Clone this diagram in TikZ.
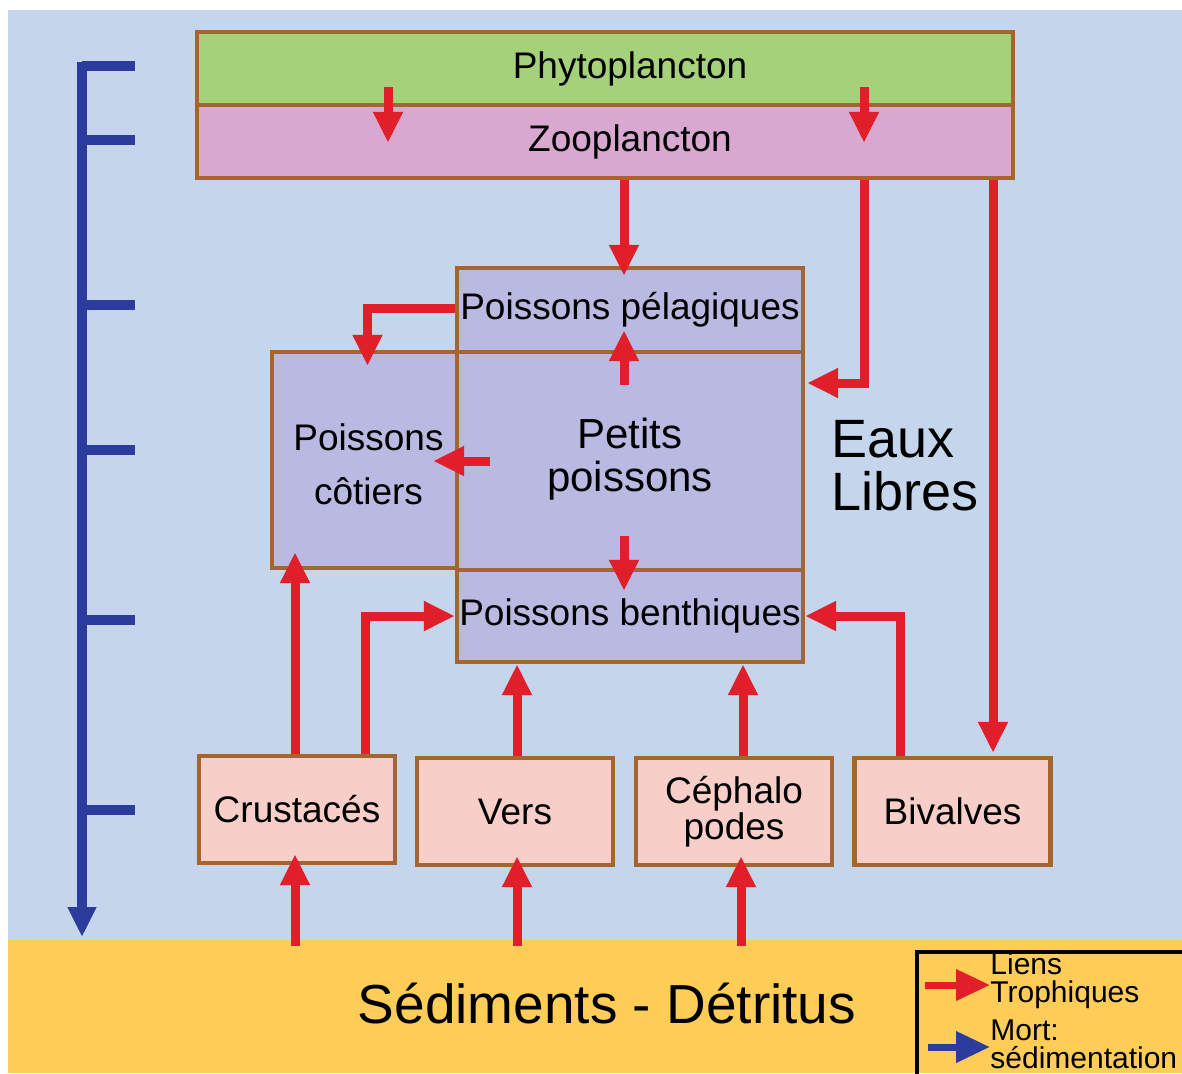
\documentclass[tikz,border=0pt]{standalone}
\usepackage{fontspec}
\setmainfont{Liberation Sans}
\usetikzlibrary{arrows.meta, calc}

\definecolor{fondbleu}{HTML}{C4D5EC}
\definecolor{jaune}{HTML}{FDCD58}
\definecolor{vert}{HTML}{A5D17B}
\definecolor{rosezoo}{HTML}{D8A8D0}
\definecolor{lavande}{HTML}{B9B9E1}
\definecolor{rosepale}{HTML}{F8CFC8}
\definecolor{brun}{HTML}{A5652F}
\definecolor{rouge}{HTML}{E01F2B}
\definecolor{bleu}{HTML}{2B3C9C}

\begin{document}
\begin{tikzpicture}[x=0.5pt, y=-0.5pt,
  every node/.style = {align=center, font=\fontsize{18.5}{22}\selectfont},
  bloc/.style = {draw=brun, line width=2.2pt, inner sep=0pt},
  fonds/.style = {bloc, fill=rosepale, minimum width=98pt, minimum height=53.5pt},
  lien/.style = {draw=rouge, line width=4.5pt, -{Triangle[length=15.5pt, width=14pt]}},
  mort/.style = {draw=bleu, line width=5pt}]

\useasboundingbox (0,0) rectangle (1182,1073);
\clip (0,0) rectangle (1182,1073);
\fill[white] (0,0) rectangle (1182,1073);
\fill[fondbleu] (8,10) rectangle (1182,1073);
\node[fill=jaune, inner sep=0pt, minimum width=587pt, minimum height=66.5pt] (sed) at (595,1006.5) {};
\node[font=\fontsize{27.5}{30}\selectfont] (sedtexte) at (607,1003) {Sédiments - Détritus};

% axe de sedimentation
\coordinate (axehaut) at (82,66);
\coordinate (axebas) at (82,937);
\draw[mort, -{Triangle[length=15pt, width=13.5pt]}] ($(axehaut)+(0,-4.5)$) -- (axebas);
\foreach \y in {66,140,305,450,620,810}
  \draw[mort] (82,\y) -- (135,\y);

% plancton
\node[bloc, fill=vert, minimum width=408pt, minimum height=36.5pt,
      label={[xshift=12.5pt]center:Phytoplancton}] (phyto) at (605,68.5) {};
\node[bloc, fill=rosezoo, minimum width=408pt, minimum height=36.5pt,
      label={[xshift=12.5pt]center:Zooplancton}] (zoo) at (605,141.5) {};

% poissons
\node[bloc, fill=lavande, minimum width=92.5pt, minimum height=108pt,
      label={[xshift=2pt, yshift=-2pt, font=\fontsize{18.5}{27}\selectfont]center:Poissons\\côtiers}] (cotiers) at (364.5,460) {};
\node[bloc, fill=lavande, minimum width=173pt, minimum height=42pt] (pelag) at (630,310) {Poissons pélagiques};
\node[bloc, fill=lavande, minimum width=173pt, minimum height=109pt,
      label={[yshift=1pt, font=\fontsize{21}{21.5}\selectfont]center:Petits\\poissons}] (petits) at (630,461) {};
\node[bloc, fill=lavande, minimum width=173pt, minimum height=46pt] (benth) at (630,616) {Poissons benthiques};

\node[anchor=west, align=left, font=\fontsize{27}{26.5}\selectfont] (eaux) at (824,466) {Eaux\\Libres};

% fonds
\node[fonds] (crust) at (297,809.5) {Crustacés};
\node[fonds] (vers) at (515,811.5) {Vers};
\node[fonds, font=\fontsize{18.5}{18}\selectfont] (cepha) at (734,811.5) {Céphalo\\podes};
\node[fonds] (biv) at (952.5,811.5) {Bivalves};

% liens trophiques
\draw[lien] ($(phyto.south)+(-217,-20)$) -- ($(zoo.north)+(-217,40)$);
\draw[lien] ($(phyto.south)+(259,-20)$) -- ($(zoo.north)+(259,40)$);
\draw[lien] ($(zoo.south)+(19,0)$) -- ($(pelag.north)+(-6,10)$);
\draw[lien] ($(zoo.south)+(259,0)$) |- ($(petits.east)+(2,-78)$);
\draw[lien] ($(zoo.south)+(388,0)$) -- ($(biv.north)+(40.5,-3)$);
\draw[lien] ($(pelag.west)+(0,-2)$) -| ($(cotiers.north)+(3,16)$);
\draw[lien] ($(petits.north)+(-6,35)$) -- ($(pelag.south)+(-6,-24)$);
\draw[lien] ($(petits.west)+(35,0)$) -- ($(cotiers.east)+(-26,1)$);
\draw[lien] ($(petits.south)+(-6,-36)$) -- ($(benth.north)+(-6,23)$);
\draw[lien] ($(crust.north)+(-2,0)$) -- ($(cotiers.south)+(-69.5,-18)$);
\draw[lien] ($(crust.north)+(68,0)$) |- (benth.west);
\draw[lien] ($(vers.north)+(2,0)$) -- ($(benth.south)+(-113,0)$);
\draw[lien] ($(cepha.north)+(9,0)$) -- ($(benth.south)+(113,0)$);
\draw[lien] ($(biv.north)+(-52.5,0)$) |- (benth.east);
\draw[lien] ($(sed.north -| crust.south)+(-2,6)$) -- ($(crust.south)+(-2,-11)$);
\draw[lien] ($(sed.north -| vers.south)+(2,6)$) -- ($(vers.south)+(2,-11)$);
\draw[lien] ($(sed.north -| cepha.south)+(7,6)$) -- ($(cepha.south)+(7,-11)$);

% legende
\node[draw=black, line width=2pt, inner sep=0pt, minimum width=141.5pt, minimum height=69pt] (legende) at (1058.5,1021) {};
\node[anchor=west, align=left, inner sep=0pt, font=\fontsize{15}{14}\selectfont] (liens) at (990,981) {Liens\\Trophiques};
\node[anchor=west, align=left, inner sep=0pt, font=\fontsize{15}{14}\selectfont] (mortlbl) at (990,1044) {Mort:\\sédimentation};
\draw[lien, line width=3.5pt, -{Triangle[length=17pt, width=15pt]}] ($(liens.west)+(-65,4)$) -- ($(liens.west)+(0,4)$);
\draw[mort, line width=3.5pt, -{Triangle[length=17pt, width=15pt]}] ($(mortlbl.west)+(-62,3)$) -- ($(mortlbl.west)+(0,3)$);
\end{tikzpicture}
\end{document}
